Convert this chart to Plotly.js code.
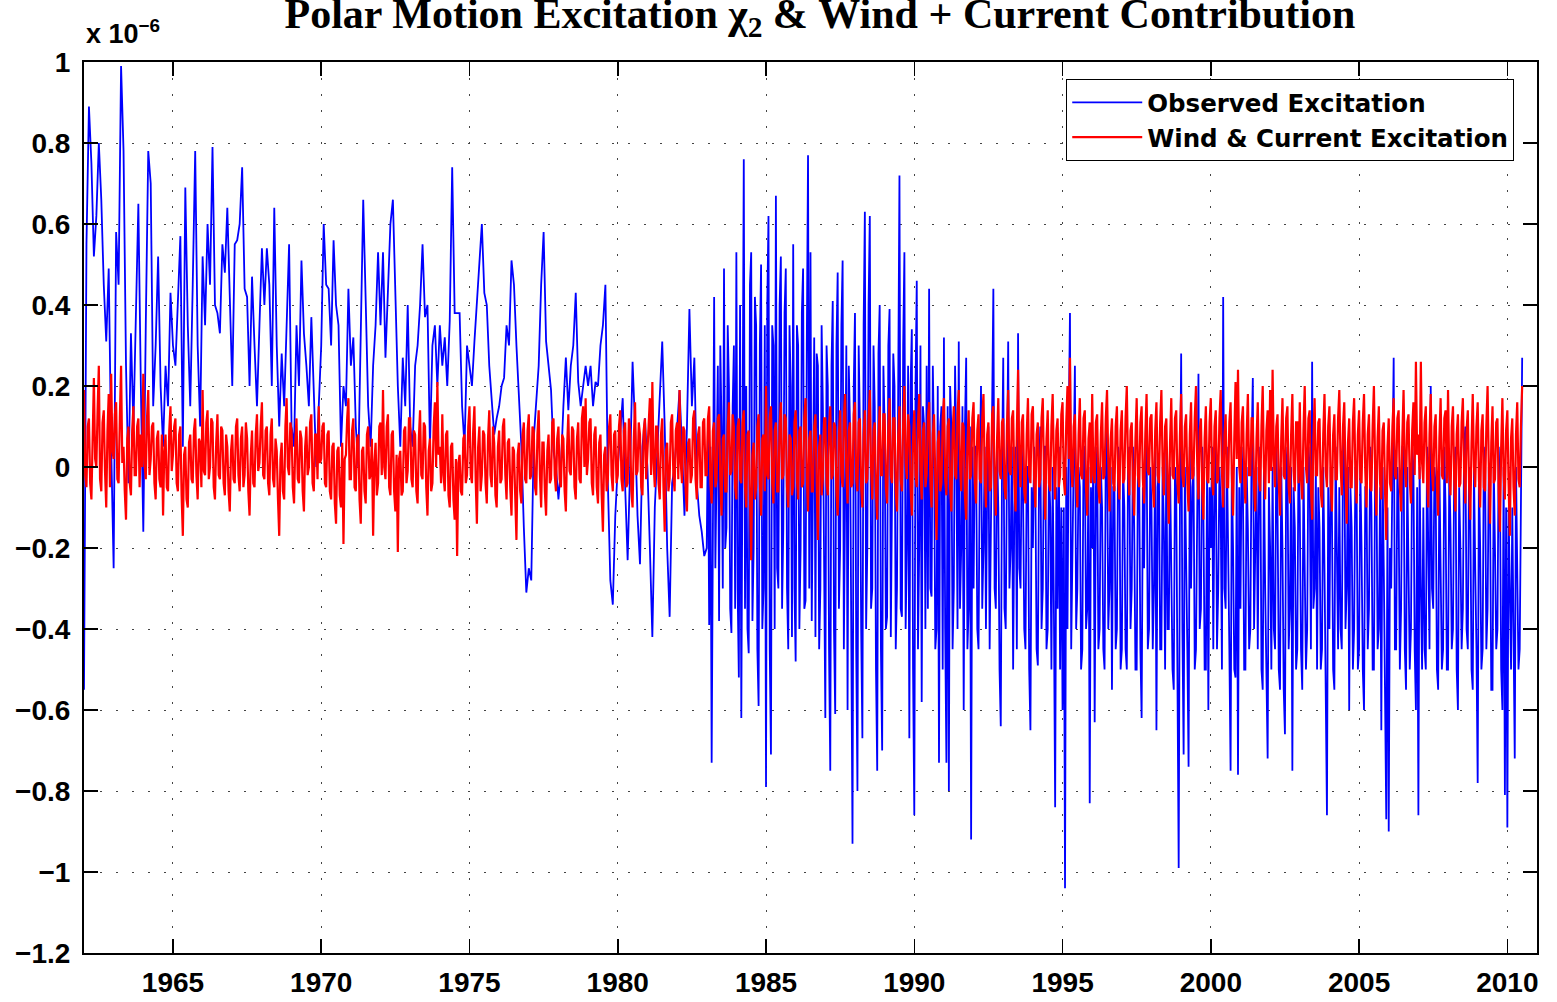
<!DOCTYPE html>
<html>
<head>
<meta charset="utf-8">
<script src="https://cdn.plot.ly/plotly-3.0.1.min.js"></script>
<style>html,body{margin:0;padding:0;background:#fff;}#chart{width:1557px;height:1002px;}</style>
</head>
<body>
<div id="chart"></div>
<script>
// Values in units of 1e-6.
// Observed excitation: monthly samples 1962.0-1982.9, then half-monthly samples 1983.0-2010.5
const observedEarlyStart = 1962.0;
const observedEarlyPerYear = 12;
const observedEarly = [
-0.55, 0.55, 0.89, 0.75, 0.52, 0.62, 0.80, 0.66, 0.45, 0.31, 0.49, 0.05,
-0.25, 0.58, 0.45, 0.99, 0.78, 0.25, -0.04, 0.33, 0.10, 0.40, 0.65, 0.20,
-0.16, 0.35, 0.78, 0.70, 0.15, 0.30, 0.52, 0.20, 0.05, 0.25, 0.15, 0.43,
0.30, 0.25, 0.40, 0.57, 0.05, 0.69, 0.35, 0.15, 0.45, 0.78, 0.30, 0.10,
0.52, 0.35, 0.60, 0.45, 0.79, 0.40, 0.38, 0.33, 0.55, 0.48, 0.64, 0.40,
0.20, 0.55, 0.56, 0.60, 0.74, 0.44, 0.42, 0.20, 0.47, 0.30, 0.15, 0.35,
0.54, 0.40, 0.54, 0.45, 0.20, 0.64, 0.30, 0.10, 0.28, 0.15, 0.35, 0.55,
0.10, 0.05, 0.35, 0.20, 0.51, 0.33, 0.25, 0.15, 0.37, 0.20, 0.00, 0.15,
0.30, 0.60, 0.45, 0.44, 0.30, 0.56, 0.40, 0.35, 0.05, 0.20, 0.15, 0.44,
0.25, 0.32, 0.10, 0.00, 0.35, 0.66, 0.41, 0.15, 0.05, 0.25, 0.35, 0.53,
0.35, 0.53, 0.27, 0.45, 0.60, 0.66, 0.43, 0.20, 0.05, 0.27, 0.15, 0.40,
0.10, 0.05, 0.25, 0.30, 0.40, 0.55, 0.37, 0.40, 0.05, 0.30, 0.35, 0.20,
0.35, 0.25, 0.32, 0.20, 0.36, 0.74, 0.38, 0.38, 0.38, 0.15, 0.05, 0.30,
0.25, 0.20, 0.31, 0.40, 0.50, 0.60, 0.43, 0.40, 0.25, 0.17, 0.08, 0.12,
0.15, 0.20, 0.22, 0.35, 0.30, 0.51, 0.45, 0.30, 0.16, 0.05, -0.15, -0.31,
-0.25, -0.28, 0.07, 0.15, 0.25, 0.45, 0.58, 0.31, 0.25, 0.19, 0.04, 0.00,
-0.08, 0.00, 0.15, 0.27, 0.14, 0.25, 0.30, 0.43, 0.21, 0.15, 0.20, 0.25,
0.20, 0.25, 0.15, 0.21, 0.20, 0.30, 0.35, 0.45, -0.04, -0.28, -0.34, -0.12,
0.00, 0.10, 0.17, -0.05, -0.23, 0.00, 0.26, 0.10, -0.12, -0.24, 0.05, 0.12,
0.00, -0.20, -0.42, -0.10, 0.04, 0.15, 0.31, 0.10, -0.20, -0.37, -0.04, 0.00,
0.10, 0.19, 0.05, -0.12, 0.10, 0.39, 0.15, 0.27, -0.04, -0.12, -0.16, -0.22
];

const observedLateStart = 1983.0;
const observedLatePerYear = 24;
const observedLate = [
-0.20,0.10,-0.39,0.05,-0.73,-0.10,0.42,-0.25,0.05,0.25,-0.38,0.30,0.10,-0.30,0.49,-0.20,-0.15,0.35,0.20,-0.35,-0.41,0.15,0.30,-0.35,
0.53,-0.30,-0.52,0.40,-0.62,0.35,0.76,-0.35,0.20,-0.40,-0.46,0.45,0.53,-0.38,-0.20,0.42,0.35,-0.45,-0.59,0.30,0.50,-0.40,-0.30,0.35,
-0.79,0.40,0.62,-0.45,-0.71,0.35,0.30,-0.40,0.67,-0.25,-0.30,0.40,0.52,-0.35,-0.15,0.38,0.49,-0.30,-0.45,0.35,0.20,-0.42,0.55,-0.30,
-0.48,0.35,0.30,-0.40,-0.20,0.38,0.49,-0.35,-0.33,0.30,0.77,-0.30,0.53,-0.38,-0.10,0.32,-0.42,0.28,0.25,-0.45,-0.30,0.35,0.15,-0.40,
-0.62,0.30,0.20,-0.45,-0.75,0.25,0.41,-0.40,-0.61,0.30,0.48,-0.35,-0.20,0.35,0.51,-0.45,-0.10,0.30,-0.60,0.25,0.10,-0.50,-0.93,0.20,
0.38,-0.45,-0.80,0.30,0.10,-0.40,-0.67,0.35,0.63,-0.40,-0.20,0.40,0.62,-0.35,-0.30,0.30,0.15,-0.50,-0.75,0.28,0.40,-0.45,-0.70,0.25,
0.10,-0.40,-0.37,0.30,0.39,-0.42,-0.10,0.28,0.20,-0.45,-0.30,0.35,0.72,-0.35,-0.37,0.30,0.53,-0.40,-0.20,0.25,-0.67,0.20,0.34,-0.50,
-0.86,0.20,0.46,-0.45,-0.20,0.30,-0.58,0.15,0.10,-0.40,0.25,-0.35,0.44,-0.30,-0.32,0.25,0.05,-0.45,-0.40,0.20,-0.73,0.10,0.15,-0.50,
0.32,-0.40,-0.73,0.15,-0.80,0.20,0.10,-0.45,-0.30,0.25,0.05,-0.40,0.31,-0.35,-0.20,0.15,-0.60,0.10,0.27,-0.45,-0.35,0.10,-0.92,0.05,
-0.30,0.05,0.05,-0.40,-0.45,0.00,0.20,-0.35,-0.20,0.05,-0.40,-0.05,0.10,-0.45,-0.15,0.00,0.44,-0.30,-0.35,0.05,-0.10,-0.50,-0.64,0.00,
0.27,-0.35,-0.40,0.00,0.31,-0.30,-0.20,0.05,-0.50,-0.10,0.05,-0.45,0.33,-0.25,-0.30,0.05,-0.05,-0.40,-0.45,0.00,0.00,-0.50,-0.65,-0.05,
-0.20,0.05,-0.05,-0.45,-0.49,0.00,0.10,-0.40,-0.30,0.05,0.05,-0.45,-0.40,0.00,-0.10,-0.50,0.00,-0.35,-0.84,-0.05,-0.35,0.05,-0.50,-0.10,
-0.60,-0.10,-1.04,0.00,-0.40,0.10,0.38,-0.45,-0.20,0.05,0.25,-0.40,-0.30,0.00,-0.05,-0.50,-0.45,0.05,0.05,-0.40,-0.35,0.00,-0.83,-0.05,
-0.20,0.05,-0.63,-0.05,0.05,-0.45,-0.40,0.00,-0.10,-0.45,-0.50,0.05,0.10,-0.40,-0.30,0.00,-0.55,-0.05,-0.05,-0.45,-0.40,0.05,0.00,-0.50,
-0.45,0.00,-0.10,-0.45,-0.50,0.00,0.05,-0.40,-0.30,0.05,-0.15,-0.50,-0.50,0.00,0.00,-0.45,-0.62,-0.05,-0.25,0.05,0.10,-0.45,-0.40,0.00,
-0.10,-0.45,-0.30,0.05,-0.65,-0.05,0.00,-0.45,-0.45,0.00,-0.15,-0.50,0.05,-0.40,-0.40,0.00,-0.20,-0.50,-0.55,0.00,-0.05,-0.45,-0.99,-0.10,
0.28,-0.40,-0.71,0.00,-0.20,-0.45,-0.74,0.05,-0.30,-0.05,0.00,-0.50,-0.45,0.00,0.23,-0.40,-0.35,0.05,-0.10,-0.50,-0.50,0.00,-0.60,-0.05,
-0.20,0.05,-0.45,-0.05,0.05,-0.45,-0.30,0.00,-0.10,-0.50,0.42,-0.30,-0.35,0.05,-0.15,-0.45,-0.75,0.00,-0.20,-0.50,-0.52,0.00,-0.76,-0.05,
-0.35,0.05,-0.05,-0.50,-0.50,0.00,-0.15,-0.45,-0.40,0.05,0.22,-0.40,-0.20,0.00,-0.45,-0.05,0.05,-0.50,-0.55,0.00,-0.30,-0.50,-0.72,-0.05,
-0.20,-0.50,0.00,-0.40,-0.45,0.05,-0.10,-0.50,-0.55,0.00,-0.20,-0.55,-0.66,0.00,0.05,-0.45,-0.35,0.00,-0.75,-0.05,-0.15,-0.50,-0.45,0.05,
-0.10,-0.45,-0.55,0.00,-0.20,-0.50,-0.40,0.05,0.00,-0.45,0.26,-0.35,-0.30,0.00,-0.50,-0.05,-0.15,-0.50,-0.45,0.00,-0.25,-0.55,-0.86,-0.05,
-0.40,0.00,-0.10,-0.50,-0.55,0.05,-0.20,-0.45,-0.05,-0.40,-0.45,0.05,0.10,-0.40,-0.30,0.00,-0.60,-0.05,-0.15,-0.50,-0.40,0.00,-0.05,-0.50,
-0.45,0.00,-0.20,-0.50,-0.60,-0.05,-0.05,-0.45,-0.35,0.05,-0.10,-0.50,-0.50,0.00,0.00,-0.45,-0.40,-0.05,-0.65,0.00,-0.25,-0.55,-0.87,-0.10,
-0.90,-0.20,-0.30,0.00,0.27,-0.45,-0.45,0.00,-0.10,-0.50,-0.35,0.05,0.05,-0.45,-0.55,0.00,-0.20,-0.50,-0.40,0.05,0.00,-0.45,-0.60,-0.05,
-0.86,0.00,-0.30,-0.50,-0.10,-0.45,-0.50,0.05,-0.20,-0.45,0.20,-0.30,-0.35,0.00,-0.05,-0.50,-0.55,0.00,-0.25,-0.50,-0.45,0.05,-0.10,-0.50,
-0.50,0.00,-0.15,-0.45,-0.40,0.00,0.05,-0.50,-0.60,-0.05,-0.20,-0.45,-0.35,0.05,0.10,-0.40,-0.45,0.00,-0.10,-0.50,-0.55,0.00,-0.25,-0.45,
-0.78,0.00,-0.20,-0.50,-0.45,0.05,0.00,-0.45,-0.35,0.00,-0.10,-0.55,-0.55,0.00,-0.20,-0.45,-0.40,0.05,-0.05,-0.50,-0.60,0.00,-0.81,-0.10,
-0.89,-0.10,-0.30,-0.50,-0.10,-0.45,-0.72,0.00,-0.35,-0.50,-0.45,0.05,0.27
];

// Wind + current excitation: half-monthly samples 1962.0-2010.5
const windStart = 1962.0;
const windPerYear = 24;
const windCurrent = [
0.19,-0.02,-0.05,0.10,0.12,-0.04,-0.08,0.08,0.22,0.02,0.00,0.14,0.25,-0.03,-0.06,0.11,0.14,-0.01,-0.10,0.09,0.18,-0.05,0.23,0.04,
0.02,0.13,0.16,-0.03,-0.04,0.12,0.25,0.01,0.05,-0.06,-0.13,0.07,0.10,-0.04,-0.07,0.09,0.15,-0.02,-0.02,0.10,0.12,-0.05,0.08,0.00,
0.23,0.01,-0.03,0.12,0.19,-0.02,0.02,0.10,0.11,-0.04,-0.08,0.07,0.09,-0.03,-0.05,0.08,-0.12,0.04,0.08,-0.05,-0.06,0.09,0.15,-0.01,
0.03,0.10,0.12,-0.04,-0.06,0.08,0.10,-0.07,-0.17,0.03,0.05,-0.08,-0.10,0.06,0.08,-0.03,-0.04,0.09,0.12,-0.02,-0.08,0.07,0.06,-0.05,
0.19,-0.01,-0.02,0.11,0.14,-0.03,0.00,0.12,0.11,-0.05,-0.08,0.06,0.13,-0.02,-0.03,0.10,0.09,-0.04,-0.07,0.08,0.05,-0.06,-0.11,0.04,
0.08,-0.03,-0.04,0.10,0.12,-0.02,-0.06,0.07,0.10,-0.05,-0.02,0.11,0.07,-0.06,-0.12,0.03,0.09,-0.04,-0.05,0.08,0.13,-0.01,0.01,0.10,
0.16,-0.02,-0.03,0.09,0.10,-0.04,-0.07,0.08,0.12,-0.03,-0.05,0.07,0.04,-0.08,-0.17,0.02,0.06,-0.06,-0.08,0.10,0.17,0.00,-0.02,0.11,
0.09,-0.05,-0.09,0.06,0.12,-0.03,-0.04,0.09,0.07,-0.06,-0.11,0.05,0.10,-0.02,0.00,0.11,0.13,-0.04,-0.06,0.08,0.08,-0.03,0.15,0.01,
0.02,0.10,0.11,-0.04,-0.05,0.08,0.09,-0.06,-0.08,0.05,0.06,-0.09,-0.14,0.04,0.05,-0.07,-0.10,0.06,-0.19,0.02,0.03,0.12,0.17,-0.03,
-0.03,0.09,0.12,-0.05,-0.06,0.07,0.08,-0.08,-0.14,0.04,0.05,-0.06,-0.09,0.08,0.10,-0.03,-0.02,0.07,-0.17,0.01,0.06,-0.07,-0.04,0.10,
0.11,-0.02,0.19,0.00,-0.03,0.10,0.13,-0.05,-0.07,0.08,0.09,-0.06,-0.11,0.03,-0.21,0.02,0.04,-0.07,-0.06,0.09,0.10,-0.04,-0.01,0.12,
0.12,-0.03,-0.05,0.09,0.08,-0.06,-0.09,0.07,0.14,-0.02,-0.03,0.11,0.10,-0.05,-0.12,0.04,0.07,-0.06,-0.04,0.10,0.16,0.00,0.21,0.03,
0.05,-0.04,0.13,-0.02,-0.06,0.08,0.09,-0.07,-0.10,0.05,0.06,-0.08,-0.13,0.02,-0.22,0.01,0.03,-0.06,-0.07,0.07,0.08,-0.04,-0.02,0.10,
0.15,-0.02,-0.04,0.09,0.15,-0.03,-0.14,0.05,0.10,-0.06,-0.02,0.09,0.08,-0.04,-0.09,0.07,0.14,-0.02,-0.05,0.10,0.06,-0.07,-0.10,0.05,
0.09,-0.04,-0.03,0.10,0.12,-0.02,-0.08,0.06,0.07,-0.05,-0.12,0.05,0.04,-0.07,-0.18,0.03,0.06,-0.06,-0.09,0.08,0.11,-0.03,-0.04,0.09,
0.13,-0.03,-0.02,0.10,0.09,-0.05,-0.07,0.08,0.14,-0.02,-0.10,0.06,0.06,-0.06,-0.12,0.04,0.08,-0.04,-0.03,0.11,0.12,-0.02,-0.06,0.07,
0.10,-0.03,-0.05,0.08,0.07,-0.06,-0.11,0.05,0.13,-0.01,-0.02,0.10,0.09,-0.05,-0.08,0.07,0.11,-0.03,-0.04,0.12,0.15,0.00,0.17,-0.02,
0.02,0.11,0.12,-0.04,-0.07,0.08,0.10,-0.05,-0.09,0.06,0.08,-0.07,-0.16,0.03,0.05,-0.06,-0.03,0.10,0.13,-0.02,-0.06,0.08,0.09,-0.04,
-0.02,0.10,0.14,-0.03,-0.06,0.09,0.11,-0.05,-0.04,0.12,0.09,-0.06,-0.10,0.07,0.16,-0.02,-0.01,0.11,0.08,-0.05,-0.07,0.09,0.12,-0.03,
0.03,0.12,0.17,-0.02,0.21,0.01,-0.05,0.10,0.10,-0.04,-0.08,0.08,0.12,-0.05,-0.16,0.04,0.06,-0.06,-0.03,0.11,0.13,-0.02,-0.06,0.09,
0.11,-0.03,0.19,0.01,-0.04,0.10,0.09,-0.06,-0.11,0.06,0.07,-0.04,-0.02,0.12,0.14,-0.03,-0.08,0.08,0.10,-0.05,-0.05,0.11,0.12,-0.02,
-0.02,0.12,0.15,-0.04,-0.09,0.09,0.11,-0.05,-0.03,0.12,0.13,-0.03,-0.12,0.07,0.08,-0.06,-0.06,0.10,0.16,-0.02,-0.01,0.13,0.10,-0.05,
-0.08,0.10,0.12,-0.03,-0.04,0.11,0.14,-0.05,-0.10,0.08,0.09,-0.07,-0.23,0.03,0.06,-0.08,-0.05,0.10,0.13,-0.04,-0.12,0.07,0.08,-0.06,
0.20,-0.02,-0.03,0.12,0.15,-0.04,-0.09,0.09,0.11,-0.06,-0.06,0.10,0.16,-0.03,-0.02,0.13,0.12,-0.05,-0.10,0.08,0.07,-0.07,-0.05,0.11,
0.14,-0.03,-0.08,0.09,0.10,-0.05,-0.04,0.12,0.17,-0.02,-0.11,0.07,0.09,-0.06,-0.06,0.10,0.13,-0.04,-0.18,0.05,0.08,-0.07,-0.03,0.12,
0.12,-0.04,-0.07,0.10,0.15,-0.03,-0.02,0.11,0.10,-0.06,-0.12,0.08,0.14,-0.02,-0.05,0.12,0.18,-0.01,-0.09,0.09,0.11,-0.05,-0.04,0.13,
0.16,-0.03,-0.06,0.11,0.12,-0.05,-0.10,0.08,0.14,-0.04,-0.03,0.12,0.19,0.00,-0.08,0.09,0.11,-0.06,-0.13,0.07,0.15,-0.02,-0.02,0.13,
0.13,-0.05,-0.09,0.10,0.17,-0.02,-0.04,0.12,0.12,-0.06,-0.11,0.08,0.15,-0.03,-0.06,0.11,0.20,0.01,-0.03,0.13,0.10,-0.05,-0.12,0.07,
0.14,-0.02,-0.05,0.11,0.18,-0.01,-0.08,0.09,0.11,-0.05,-0.02,0.12,0.16,-0.04,-0.10,0.08,0.13,-0.03,-0.18,0.06,0.09,-0.06,-0.04,0.12,
0.17,-0.03,-0.07,0.10,0.12,-0.05,-0.11,0.08,0.15,-0.02,-0.03,0.13,0.19,0.00,-0.06,0.11,0.10,-0.07,-0.13,0.06,0.14,-0.03,-0.02,0.12,
0.16,-0.04,-0.09,0.09,0.13,-0.03,-0.04,0.12,0.18,-0.02,-0.10,0.08,0.11,-0.06,-0.05,0.13,0.15,-0.03,-0.12,0.07,0.17,-0.01,-0.03,0.11,
0.12,-0.05,-0.08,0.10,0.19,-0.01,-0.02,0.12,0.14,-0.04,-0.11,0.09,0.24,0.02,-0.05,0.11,0.13,-0.06,-0.09,0.08,0.17,-0.02,-0.04,0.13,
0.15,-0.03,-0.10,0.08,0.11,-0.05,-0.03,0.12,0.17,-0.02,-0.13,0.07,0.14,-0.04,-0.06,0.10,0.18,0.00,-0.08,0.09,0.12,-0.05,-0.02,0.13,
0.16,-0.03,-0.07,0.11,0.20,0.02,0.27,0.00,-0.05,0.10,0.13,-0.04,-0.10,0.08,0.17,-0.02,-0.03,0.12,0.14,-0.05,-0.12,0.07,0.11,-0.04,
0.18,-0.02,-0.04,0.11,0.13,-0.05,-0.09,0.08,0.16,-0.03,-0.02,0.12,0.19,0.01,-0.11,0.07,0.12,-0.04,-0.06,0.10,0.15,-0.03,-0.08,0.09,
0.14,-0.04,-0.03,0.12,0.20,0.00,-0.07,0.09,0.11,-0.05,-0.12,0.07,0.17,-0.02,-0.05,0.11,0.15,-0.03,-0.09,0.08,0.18,-0.01,-0.02,0.12,
0.13,-0.04,-0.10,0.09,0.16,-0.02,-0.04,0.11,0.19,0.00,-0.07,0.10,0.12,-0.05,-0.14,0.06,0.17,-0.02,-0.03,0.12,0.14,-0.04,-0.09,0.08,
0.18,-0.02,-0.05,0.10,0.13,-0.04,-0.11,0.08,0.16,-0.03,-0.02,0.12,0.20,0.01,-0.08,0.09,0.12,-0.05,-0.13,0.07,0.15,-0.03,-0.04,0.11,
0.17,-0.03,-0.07,0.10,0.14,-0.04,-0.03,0.12,0.19,-0.01,-0.10,0.08,0.13,-0.05,-0.05,0.11,0.16,-0.02,-0.12,0.07,0.21,0.02,0.24,0.00,
-0.04,0.11,0.15,-0.03,-0.09,0.08,0.18,-0.02,-0.02,0.12,0.12,-0.05,-0.11,0.07,0.16,-0.03,-0.06,0.10,0.20,0.00,-0.08,0.09,0.14,-0.04,
0.19,-0.01,0.24,0.02,-0.05,0.10,0.13,-0.04,-0.12,0.07,0.17,-0.02,-0.03,0.12,0.15,-0.05,-0.09,0.08,0.18,-0.01,-0.06,0.11,0.11,-0.04,
0.16,-0.03,-0.08,0.09,0.20,0.00,-0.04,0.12,0.14,-0.05,-0.13,0.07,0.17,-0.02,-0.02,0.11,0.12,-0.06,-0.10,0.08,0.18,-0.01,-0.05,0.10,
0.15,-0.04,-0.11,0.08,0.13,-0.03,-0.03,0.12,0.19,0.01,-0.07,0.10,0.16,-0.02,-0.14,0.06,0.12,-0.05,-0.05,0.11,0.17,-0.02,-0.09,0.08,
0.14,-0.03,-0.04,0.11,0.18,-0.01,-0.10,0.08,0.13,-0.05,-0.06,0.10,0.20,0.00,-0.12,0.07,0.15,-0.04,-0.08,0.09,0.11,-0.06,-0.18,0.05,
0.12,-0.04,-0.06,0.10,0.17,-0.02,-0.03,0.12,0.14,-0.05,-0.11,0.07,0.19,0.00,-0.05,0.11,0.13,-0.03,-0.09,0.09,0.16,-0.02,0.26,0.03,
0.08,-0.03,0.26,0.01,-0.04,0.11,0.15,-0.03,-0.10,0.08,0.18,-0.01,-0.06,0.10,0.13,-0.05,-0.12,0.07,0.17,-0.02,-0.03,0.12,0.14,-0.04,
0.19,-0.02,-0.07,0.10,0.15,-0.03,-0.11,0.08,0.13,-0.05,-0.04,0.11,0.17,-0.01,-0.09,0.09,0.14,-0.04,-0.13,0.06,0.18,0.00,-0.05,0.10,
0.16,-0.03,-0.10,0.09,0.13,-0.05,-0.06,0.10,0.20,0.00,-0.14,0.06,0.15,-0.04,-0.03,0.11,0.12,-0.06,-0.16,0.05,0.17,-0.02,-0.08,0.09,
0.14,-0.04,-0.17,0.07,0.12,-0.05,-0.12,0.08,0.16,-0.03,-0.05,0.10,0.20
];

const xTickVals = [1965, 1970, 1975, 1980, 1985, 1990, 1995, 2000, 2005, 2010];
const xTickText = ['1965', '1970', '1975', '1980', '1985', '1990', '1995', '2000', '2005', '2010'];
const yTickVals = [-1.2, -1, -0.8, -0.6, -0.4, -0.2, 0, 0.2, 0.4, 0.6, 0.8, 1];
const yTickText = ['\u22121.2', '\u22121', '\u22120.8', '\u22120.6', '\u22120.4', '\u22120.2', '0', '0.2', '0.4', '0.6', '0.8', '1'];
const seriesNames = ['Observed Excitation', 'Wind & Current Excitation'];

function timeAxis(start, perYear, n) {
  const t = [];
  for (let i = 0; i < n; i++) t.push(start + i / perYear);
  return t;
}

const obsX = timeAxis(observedEarlyStart, observedEarlyPerYear, observedEarly.length)
  .concat(timeAxis(observedLateStart, observedLatePerYear, observedLate.length));
const obsY = observedEarly.concat(observedLate);
const windX = timeAxis(windStart, windPerYear, windCurrent.length);

const boldSans = {family: 'Liberation Sans, Arial, sans-serif', size: 28, color: '#000', weight: 'bold'};

const traces = [
  {x: obsX, y: obsY, type: 'scatter', mode: 'lines', name: seriesNames[0],
   line: {color: 'rgb(0,0,255)', width: 1.8}},
  {x: windX, y: windCurrent, type: 'scatter', mode: 'lines', name: seriesNames[1],
   line: {color: 'rgb(255,0,0)', width: 2.2}}
];

const gridDash = '2px,14px';

const layout = {
  width: 1557, height: 1002,
  margin: {l: 84, r: 20, t: 62, b: 49, pad: 0},
  paper_bgcolor: '#fff', plot_bgcolor: '#fff',
  showlegend: true,
  title: {
    text: 'Polar Motion Excitation \u03c7<sub>2</sub> & Wind + Current Contribution',
    font: {family: 'Liberation Serif, Times New Roman, serif', size: 42, color: '#000', weight: 'bold'},
    xref: 'paper', x: 0.5065, xanchor: 'center',
    yref: 'container', y: 0.987, yanchor: 'middle'
  },
  xaxis: {
    range: [1962, 2011], tickmode: 'array', tickvals: xTickVals, ticktext: xTickText,
    ticks: 'inside', ticklen: 14, tickwidth: 1.5, tickcolor: '#000',
    showline: true, linecolor: '#000', linewidth: 2, mirror: 'ticks',
    showgrid: true, gridcolor: '#444', gridwidth: 1, griddash: gridDash,
    zeroline: false, tickfont: boldSans, ticklabelstandoff: 3, fixedrange: true
  },
  yaxis: {
    range: [-1.2, 1], tickmode: 'array', tickvals: yTickVals, ticktext: yTickText,
    ticks: 'inside', ticklen: 14, tickwidth: 1.5, tickcolor: '#000',
    showline: true, linecolor: '#000', linewidth: 2, mirror: 'ticks',
    showgrid: true, gridcolor: '#444', gridwidth: 1, griddash: gridDash,
    zeroline: false, tickfont: boldSans, ticklabelstandoff: 6, fixedrange: true
  },
  legend: {
    x: 0.676, y: 0.981, xanchor: 'left', yanchor: 'top',
    bgcolor: '#fff', bordercolor: '#000', borderwidth: 1,
    font: {family: 'DejaVu Sans, Liberation Sans, sans-serif', size: 24.5, color: '#000', weight: 'bold'},
    itemwidth: 70, tracegroupgap: 0
  },
  annotations: [{
    text: 'x 10<sup>\u22126</sup>', xref: 'paper', yref: 'paper', x: 0, y: 1.012,
    xanchor: 'left', yanchor: 'bottom', showarrow: false,
    font: {family: 'Liberation Sans, Arial, sans-serif', size: 27, color: '#000', weight: 'bold'}
  }]
};

Plotly.newPlot('chart', traces, layout, {displayModeBar: false, staticPlot: true});
</script>
</body>
</html>
